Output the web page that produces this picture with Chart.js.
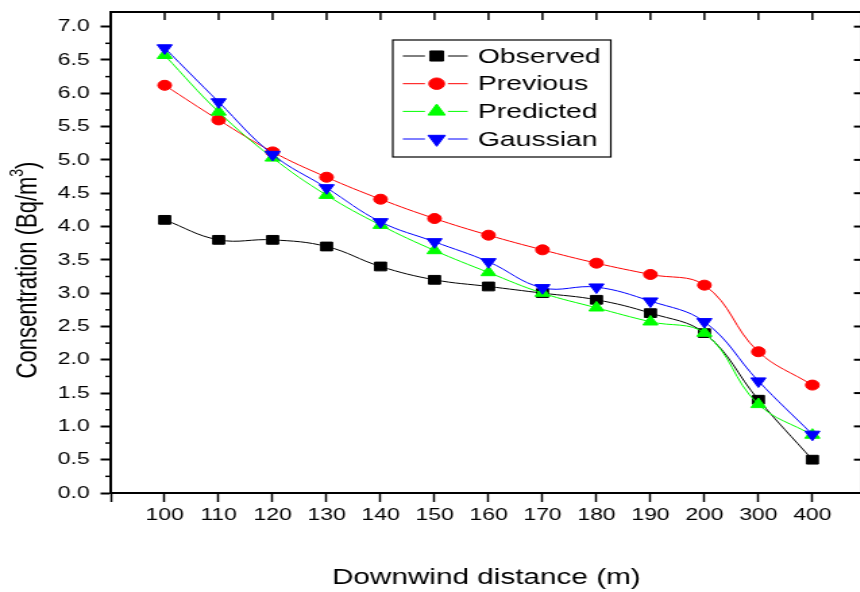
<!DOCTYPE html>
<html>
<head>
<meta charset="utf-8">
<script src="https://cdn.jsdelivr.net/npm/chart.js@4.4.1/dist/chart.umd.min.js"></script>
<style>
  html, body { margin: 0; padding: 0; background: #fff; overflow: hidden; }
  #wrap { width: 860px; height: 592px; overflow: hidden; }
  #chart { display: block; }
</style>
</head>
<body>
<div id="wrap">
  <!-- drawn at 646px wide, shown stretched like the original figure -->
  <canvas id="chart" width="646" height="592" style="width:872px;height:592px"></canvas>
</div>
<script>
// downwind distance (m)
const distances = ['100', '110', '120', '130', '140', '150', '160', '170', '180', '190', '200', '300', '400'];

// concentration (Bq/m3)
const observed  = [4.10, 3.80, 3.80, 3.70, 3.40, 3.20, 3.10, 3.00, 2.90, 2.70, 2.40, 1.40, 0.50];
const previous  = [6.12, 5.60, 5.12, 4.74, 4.41, 4.12, 3.87, 3.65, 3.45, 3.28, 3.12, 2.12, 1.62];
const predicted = [6.57, 5.72, 5.03, 4.47, 4.02, 3.64, 3.31, 3.00, 2.78, 2.57, 2.40, 1.33, 0.87];
const gaussian  = [6.68, 5.87, 5.08, 4.58, 4.07, 3.77, 3.47, 3.08, 3.09, 2.88, 2.57, 1.68, 0.88];

const seriesNames = ['Observed', 'Previous', 'Predicted', 'Gaussian'];

const FONT = "'Liberation Sans', Arial, Helvetica, sans-serif";

function pts(arr) {
  return arr.map((v, i) => ({ x: i, y: v }));
}

function makeSet(label, values, color, style, radius, rotation, order) {
  return {
    label: label,
    data: pts(values),
    borderColor: color,
    backgroundColor: color,
    borderWidth: 1,
    tension: 0.4,
    pointStyle: style,
    pointRadius: radius,
    pointRotation: rotation,
    pointBorderWidth: 1,
    pointBorderColor: color,
    pointBackgroundColor: color,
    order: order
  };
}

// frame, inward ticks on top/right, minor ticks on the left, y title and legend
const extrasPlugin = {
  id: 'extras',
  afterDraw(chart) {
    const ctx = chart.ctx;
    const area = chart.chartArea;
    const xs = chart.scales.x;
    const ys = chart.scales.y;
    ctx.save();
    ctx.strokeStyle = '#000';

    // top and right axis lines
    ctx.lineWidth = 2;
    ctx.beginPath();
    ctx.moveTo(area.left, area.top);
    ctx.lineTo(area.right, area.top);
    ctx.stroke();
    ctx.lineWidth = 1.5;
    ctx.beginPath();
    ctx.moveTo(area.right, area.top);
    ctx.lineTo(area.right, area.bottom);
    ctx.stroke();

    // top ticks (inward)
    ctx.lineWidth = 1.5;
    for (let i = 0; i < distances.length; i++) {
      const x = xs.getPixelForValue(i);
      ctx.beginPath();
      ctx.moveTo(x, area.top);
      ctx.lineTo(x, area.top + 8);
      ctx.stroke();
    }

    // right ticks (inward) and left minor ticks
    ctx.lineWidth = 2;
    for (let v = 0; v <= 7.0001; v += 0.5) {
      const y = ys.getPixelForValue(v);
      ctx.beginPath();
      ctx.moveTo(area.right, y);
      ctx.lineTo(area.right - 6, y);
      ctx.stroke();
    }
    ctx.lineWidth = 1.5;
    for (let v = 0.25; v < 7.2; v += 0.5) {
      const y = ys.getPixelForValue(v);
      ctx.beginPath();
      ctx.moveTo(area.left, y);
      ctx.lineTo(area.left - 4, y);
      ctx.stroke();
    }

    // y axis title with superscript
    ctx.fillStyle = '#000';
    ctx.translate(21, 270);
    ctx.rotate(-Math.PI / 2);
    const main = 'Consentration (Bq/m';
    ctx.font = '22px ' + FONT;
    const wMain = ctx.measureText(main).width;
    const wClose = ctx.measureText(')').width;
    ctx.font = '14px ' + FONT;
    const wSup = ctx.measureText('3').width;
    const total = wMain + wSup + wClose;
    let tx = -total / 2;
    ctx.textBaseline = 'middle';
    ctx.textAlign = 'left';
    ctx.font = '22px ' + FONT;
    ctx.fillText(main, tx, 0);
    tx += wMain;
    ctx.font = '14px ' + FONT;
    ctx.fillText('3', tx, -8);
    tx += wSup;
    ctx.font = '22px ' + FONT;
    ctx.fillText(')', tx, 0);
    ctx.setTransform(1, 0, 0, 1, 0, 0);

    // legend box
    const bx = 291, by = 40, bw = 161.5, bh = 117;
    ctx.lineWidth = 1.2;
    ctx.strokeRect(bx, by, bw, bh);
    const rows = [56, 83.7, 111.4, 139];
    const sets = chart.data.datasets;
    ctx.font = '21px ' + FONT;
    ctx.textBaseline = 'middle';
    ctx.textAlign = 'left';
    for (let i = 0; i < sets.length; i++) {
      const ds = sets[i];
      const y = rows[i];
      ctx.strokeStyle = ds.borderColor;
      ctx.lineWidth = 1;
      ctx.beginPath();
      ctx.moveTo(298.4, y); ctx.lineTo(314.8, y);
      ctx.moveTo(331.8, y); ctx.lineTo(346.5, y);
      ctx.stroke();
      ctx.fillStyle = ds.pointBackgroundColor;
      ctx.strokeStyle = ds.pointBorderColor;
      Chart.helpers.drawPoint(ctx, {
        pointStyle: ds.pointStyle,
        rotation: ds.pointRotation,
        radius: ds.pointRadius * 1.15,
        borderWidth: 1
      }, 323.5, y);
      ctx.fillStyle = '#000';
      ctx.fillText(ds.label, 354, y + 1);
    }
    ctx.restore();
  }
};

const ctx = document.getElementById('chart').getContext('2d');
const chart = new Chart(ctx, {
  type: 'line',
  data: {
    datasets: [
      makeSet(seriesNames[0], observed, '#000000', 'rect', 6.2, 0, 4),
      makeSet(seriesNames[1], previous, '#ff0000', 'circle', 5, 0, 3),
      makeSet(seriesNames[2], predicted, '#00ff00', 'triangle', 6.4, 0, 2),
      makeSet(seriesNames[3], gaussian, '#0000ff', 'triangle', 6.4, 180, 1)
    ]
  },
  options: {
    responsive: false,
    animation: false,
    events: [],
    layout: { padding: { left: 0, right: 2.8, top: 12, bottom: 0 } },
    plugins: {
      legend: { display: false },
      tooltip: { enabled: false }
    },
    scales: {
      x: {
        type: 'linear',
        min: -1,
        max: 12.92,
        afterFit(scale) {
          scale.height = 99;
          scale.paddingLeft = 0;
          scale.paddingRight = 0;
        },
        border: { display: true, color: '#000', width: 2 },
        grid: {
          drawOnChartArea: false,
          drawTicks: true,
          tickLength: 9,
          tickColor: '#000',
          tickWidth: 1.5
        },
        ticks: {
          stepSize: 1,
          includeBounds: false,
          autoSkip: false,
          maxRotation: 0,
          padding: 3,
          color: '#000',
          font: { family: FONT, size: 17 },
          callback: (v) => {
            const i = Math.round(v);
            return distances[i] !== undefined ? distances[i] : '';
          }
        },
        title: {
          display: true,
          text: 'Downwind distance (m)',
          color: '#000',
          font: { family: FONT, size: 22 },
          padding: { top: 0, bottom: 1 }
        }
      },
      y: {
        type: 'linear',
        min: 0,
        max: 7.22,
        afterFit(scale) {
          scale.width = 82;
          scale.paddingTop = 0;
          scale.paddingBottom = 0;
        },
        border: { display: true, color: '#000', width: 2 },
        grid: {
          drawOnChartArea: false,
          drawTicks: true,
          tickLength: 7.5,
          tickColor: '#000',
          tickWidth: 2
        },
        ticks: {
          stepSize: 0.5,
          includeBounds: false,
          padding: 8,
          color: '#000',
          font: { family: FONT, size: 17 },
          callback: (v) => v.toFixed(1)
        }
      }
    }
  },
  plugins: [extrasPlugin]
});
</script>
</body>
</html>
